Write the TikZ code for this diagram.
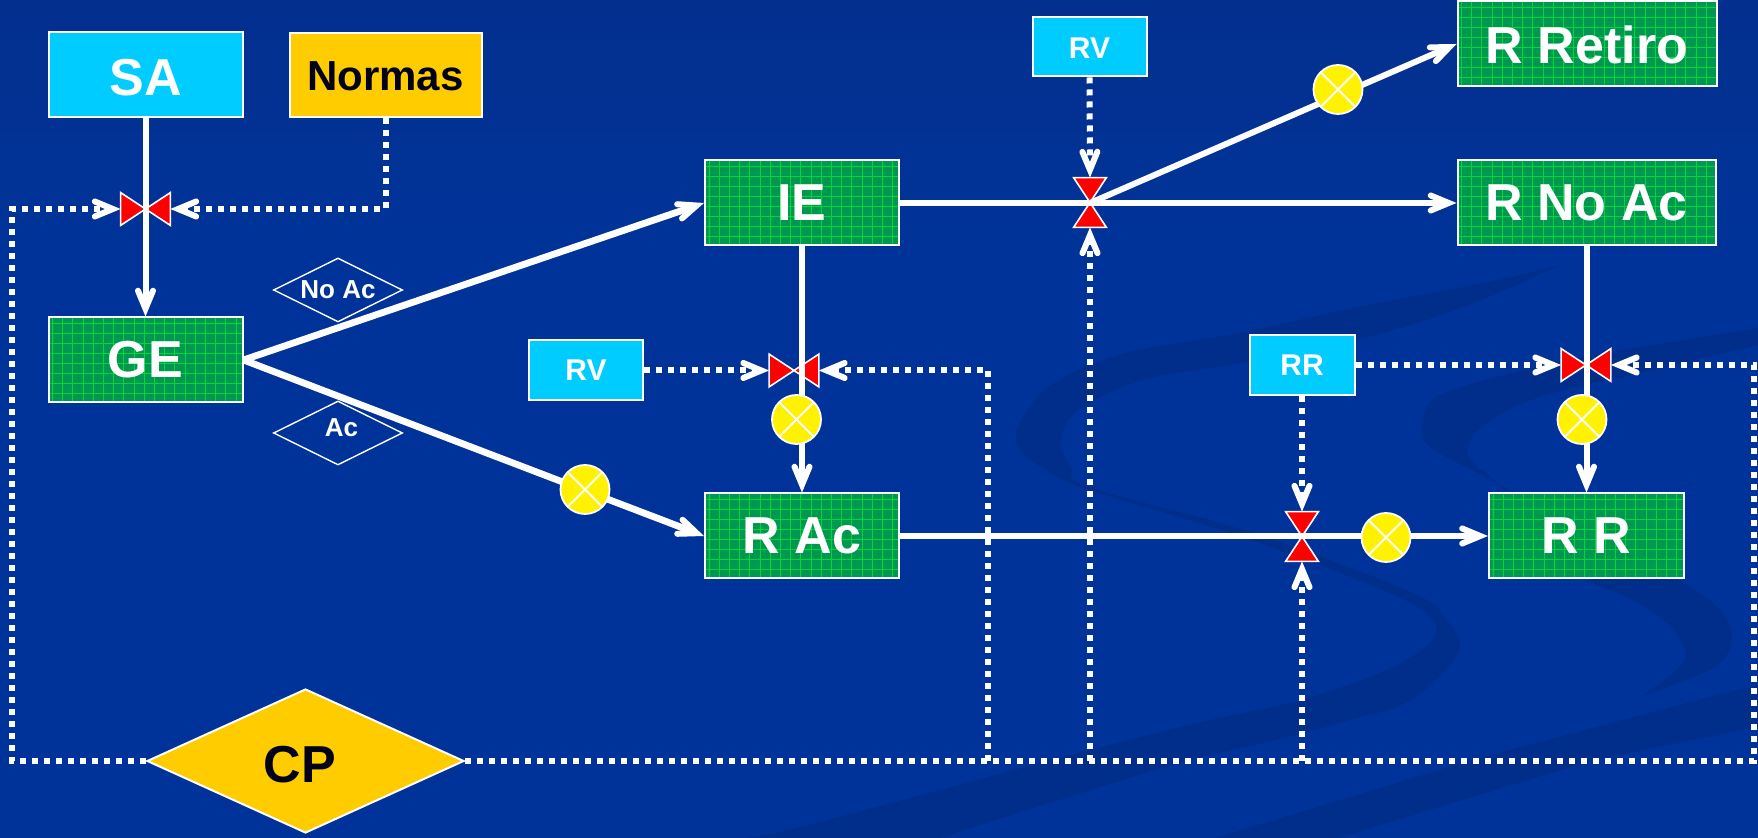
\documentclass[tikz,border=0pt]{standalone}
\usepackage{fontspec}
\setmainfont{Liberation Sans}
\usetikzlibrary{arrows.meta,shapes.geometric}
\definecolor{bgblue}{HTML}{003399}
\definecolor{bgtop}{HTML}{03308F}
\definecolor{swirlc}{HTML}{002E8A}
\definecolor{cyanbox}{HTML}{00CCFF}
\definecolor{amber}{HTML}{FFCC00}
\definecolor{greenbox}{HTML}{009850}
\definecolor{gridgreen}{HTML}{00D838}
\definecolor{ink}{HTML}{000016}
\newcommand\nudge[2]{\raisebox{#1}[\height][\depth]{#2}}
\tikzset{
  fontbig/.style={font=\fontsize{26}{28}\selectfont\bfseries},
  box/.style={draw=white,line width=1pt,inner sep=0pt,fontbig,text=white},
  cyanb/.style={box,fill=cyanbox},
  amberb/.style={box,fill=amber,text=ink},
  greenb/.style={box,fill=greenbox,path picture={
    \foreach \k in {0,...,25}{
      \draw[gridgreen,line width=.5pt] ([xshift=\k*5.1pt+2pt]path picture bounding box.north west) -- ([xshift=\k*5.1pt+2pt]path picture bounding box.south west);}
    \foreach \k in {0,...,10}{
      \draw[gridgreen,line width=.5pt] ([yshift=-\k*5pt-3pt]path picture bounding box.north west) -- ([yshift=-\k*5pt-3pt]path picture bounding box.north east);}
  }},
  smalltext/.style={font=\fontsize{15}{17}\selectfont\bfseries},
  valveh/.style={inner sep=0pt,minimum width=24.5pt,minimum height=16pt},
  valvev/.style={inner sep=0pt,minimum width=16pt,minimum height=24.5pt},
  valveface/.style={fill=red,draw=white,line width=.8pt,line join=miter},
  ball/.style={circle,inner sep=0pt,minimum size=24.5pt,fill=yellow,draw=white,line width=.9pt,path picture={
    \draw[white,line width=.9pt] (path picture bounding box.north west) -- (path picture bounding box.south east);
    \draw[white,line width=.9pt] (path picture bounding box.north east) -- (path picture bounding box.south west);
  }},
  tag/.style={diamond,draw=white,line width=.7pt,aspect=2,inner sep=0pt,minimum width=64.5pt,minimum height=32pt,text=white,font=\fontsize{13}{15}\selectfont\bfseries},
  tipstyle/.style={-{Straight Barb[length=9pt,width=7.5pt,line width=3pt,line cap=round,line join=miter]}},
  flow/.style={white,line width=3pt,tipstyle},
  flowthick/.style={white,line width=3.4pt,tipstyle},
  control/.style={white,line width=3pt,dash pattern=on 3pt off 3pt},
  controlarrow/.style={control,tipstyle},
  swirl/.style={fill=swirlc,draw=none},
}
\begin{document}
\begin{tikzpicture}[x=0.5pt,y=-0.5pt]
\useasboundingbox (0,0) rectangle (1758,838);
% background
\fill[bgblue] (0,0) rectangle (1758,838);
\shade[top color=bgtop,bottom color=bgblue,draw=none] (0,0) rectangle (1758,260);
\fill[swirl] plot[smooth,tension=.6] coordinates {(1560,265) (1483,283) (1357,307) (1243,332) (1125,353) (1054,383) (1021,420) (1018,447) (1046,470) (1089,490) (1242,537) (1387,592) (1432,620) (1429,643) (1386,670) (1301,700) (1197,723) (1063,757) (800,827) (740,838)}
  -- plot[smooth,tension=.6] coordinates {(940,838) (1166,767) (1276,740) (1350,720) (1411,700) (1458,653) (1447,620) (1411,592) (1250,532) (1089,487) (1071,467) (1061,440) (1079,410) (1143,380) (1243,363) (1357,340) (1464,307) (1560,265)} -- cycle;
\fill[swirl] plot[smooth,tension=.6] coordinates {(1758,328) (1633,348) (1533,368) (1440,395) (1423,423) (1430,447) (1497,483) (1600,540) (1683,583) (1720,610) (1732,638) (1720,663) (1687,680) (1640,697)}
  -- plot[smooth,tension=.6] coordinates {(1640,697) (1673,673) (1685,653) (1667,623) (1627,597) (1583,575) (1497,483) (1477,467) (1468,447) (1487,423) (1540,397) (1640,373) (1758,345)} -- cycle;
\fill[swirl] (1758,685) -- (1686,703) -- (1472,760) -- (1215,838) -- (1338,838) -- (1594,760) -- (1758,727) -- cycle;
% boxes
\node[cyanb,minimum width=97pt,minimum height=42.5pt] (sa) at (145.5,75) {\nudge{-1.2pt}{SA}};
\node[amberb,minimum width=96pt,minimum height=42pt,font=\fontsize{21}{23}\selectfont\bfseries] (normas) at (385.5,75.5) {\nudge{-.6pt}{Normas}};
\node[greenb,minimum width=97pt,minimum height=42.5pt] (ge) at (145.5,360) {GE};
\node[greenb,minimum width=97pt,minimum height=42.5pt] (ie) at (802,203) {IE};
\node[greenb,minimum width=97pt,minimum height=42.5pt] (rac) at (802,536) {R Ac};
\node[greenb,minimum width=129.5pt,minimum height=42.5pt] (retiro) at (1587,44) {\nudge{-.6pt}{R Retiro}};
\node[greenb,minimum width=129pt,minimum height=42.5pt] (rnoac) at (1586.5,203) {R No Ac};
\node[greenb,minimum width=97.5pt,minimum height=42.5pt] (rr) at (1586.5,536) {R R};
\node[cyanb,smalltext,minimum width=57pt,minimum height=29.5pt] (rvt) at (1089.5,47) {\nudge{-.6pt}{RV}};
\node[cyanb,smalltext,minimum width=57pt,minimum height=30pt] (rvm) at (586,370.5) {RV};
\node[cyanb,smalltext,minimum width=52.5pt,minimum height=30pt] (rrb) at (1302,365) {RR};
\node[amberb,diamond,aspect=2.2,minimum width=158.5pt,minimum height=72pt] (cp) at (305.5,761) {\hspace*{-5.6pt}\nudge{-1.7pt}{CP}};
\node[tag] (tna) at (338,290) {No Ac};
\node[tag] (tac) at (338,433) {\hspace*{3.4pt}\nudge{2.6pt}{Ac}};
% valves
\node[valveh] (v1) at (145.5,209) {};
\node[valveh] (v2) at (794,370.5) {};
\node[valveh] (v3) at (1586,365) {};
\node[valvev] (v4) at (1090,202.5) {};
\node[valvev] (v5) at (1302,536.5) {};
\foreach \v in {v1,v2,v3}
  \draw[valveface] (\v.north west) -- (\v.south east) -- (\v.north east) -- (\v.south west) -- cycle;
\foreach \v in {v4,v5}
  \draw[valveface] (\v.north west) -- (\v.north east) -- (\v.south west) -- (\v.south east) -- cycle;
% corner points of the control loop
\coordinate (ll) at (12,761);
\coordinate (lu) at (12,209);
\coordinate (nc) at (385.5,209);
\coordinate (rl) at (1754,761);
\coordinate (ru) at (1754,365);
\coordinate (b1) at (988,761);
\coordinate (b1u) at (988,370.5);
\coordinate (b2) at (1090,761);
\coordinate (b3) at (1302,761);
\coordinate (fork) at (1090,203);
% control lines
\draw[controlarrow] (normas.south) -- (nc) -- (v1.east);
\draw[controlarrow] (cp.west) -- (ll) -- (lu) -- (v1.west);
\draw[controlarrow] (cp.east) -- (rl) -- (ru) -- (v3.east);
\draw[controlarrow] (b1) -- (b1u) -- (v2.east);
\draw[controlarrow] (b2) -- (v4.south);
\draw[controlarrow] (b3) -- (v5.south);
\draw[controlarrow] (rvt.south) -- (v4.north);
\draw[controlarrow] (rvm.east) -- (v2.west);
\draw[controlarrow] (rrb.east) -- (v3.west);
\draw[controlarrow] (rrb.south) -- (v5.north);
% flows
\draw[flow] (sa.south) -- (ge.north);
\draw[flowthick] (ge.east) -- (ie.west);
\draw[flowthick] (ge.east) -- (rac.west);
\draw[flow] (ie.south) -- (rac.north);
\draw[flow] (ie.east) -- (rnoac.west);
\draw[flow] (fork) -- (retiro.west);
\draw[flow] (rnoac.south) -- (rr.north);
\draw[flow] (rac.east) -- (rr.west);
% balls
\node[ball] (b_a) at (585,489.5) {};
\node[ball] (b_b) at (796.5,419.5) {};
\node[ball] (b_c) at (1338,89.5) {};
\node[ball] (b_d) at (1582,419.5) {};
\node[ball] (b_e) at (1386,537.5) {};
\end{tikzpicture}
\end{document}
